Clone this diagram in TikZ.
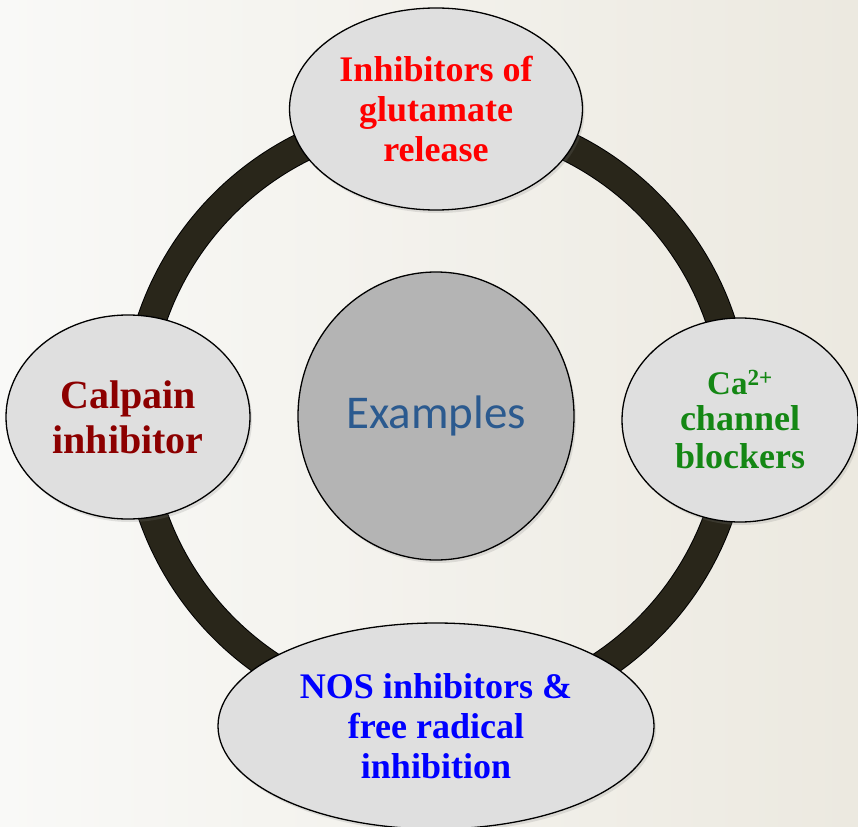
\documentclass[tikz,border=0pt]{standalone}
\usepackage{fontspec}
\setmainfont{Liberation Serif}
\newfontfamily\exfont{Carlito}
\usetikzlibrary{shapes.geometric,shadows}
\definecolor{ringcol}{RGB}{41,38,26}
\definecolor{ovalfill}{RGB}{223,223,223}
\definecolor{centerfill}{RGB}{180,180,180}
\definecolor{extext}{RGB}{43,90,143}
\definecolor{calred}{RGB}{140,0,0}
\definecolor{cagreen}{RGB}{20,135,20}
\definecolor{bgleft}{RGB}{249,249,247}
\definecolor{bgright}{RGB}{236,233,224}
\begin{document}
\begin{tikzpicture}[x=1pt,y=-1pt,
  oval/.style={ellipse, draw=black, line width=1.3pt, fill=ovalfill,
    inner sep=0pt, align=center,
    font=\bfseries\fontsize{36}{40}\selectfont,
    drop shadow={opacity=0.2,shadow xshift=2pt,shadow yshift=-3pt}},
  hub/.style={ellipse, draw=black, line width=1.3pt, fill=centerfill,
    inner sep=0pt, font=\exfont\fontsize{47}{50}\selectfont, text=extext,
    drop shadow={opacity=0.2,shadow xshift=2pt,shadow yshift=-3pt}},
  ringout/.style={draw=black, line width=30pt},
  ringin/.style={draw=ringcol, line width=28pt}
]
\useasboundingbox (0,0) rectangle (858,826);
\shade[left color=bgleft, right color=bgright] (0,0) rectangle (858,826);

\coordinate (c) at (436,416);
\draw[ringout] (c) circle[radius=300pt];
\draw[ringin] (c) circle[radius=300pt];

\node[hub, minimum width=276pt, minimum height=288pt] (ex) at (c) {Examples};

\node[oval, minimum width=293pt, minimum height=202pt, text=red] (glu) at (436,109)
  {Inhibitors of\\glutamate\\release};

\node[oval, minimum width=236pt, minimum height=204pt, text=cagreen] (ca) at (740,420)
  {{\fontsize{33}{33}\selectfont Ca\textsuperscript{2+}}\\[-4pt]channel\\[-2pt]blockers};

\node[oval, minimum width=244pt, minimum height=204pt, text=calred,
  font=\bfseries\fontsize{40}{45}\selectfont] (cal) at (128,417)
  {Calpain\\inhibitor};

\node[oval, minimum width=436pt, minimum height=206pt, text=blue] (nos) at (436,726)
  {NOS inhibitors \&\\free radical\\inhibition};
\end{tikzpicture}
\end{document}
